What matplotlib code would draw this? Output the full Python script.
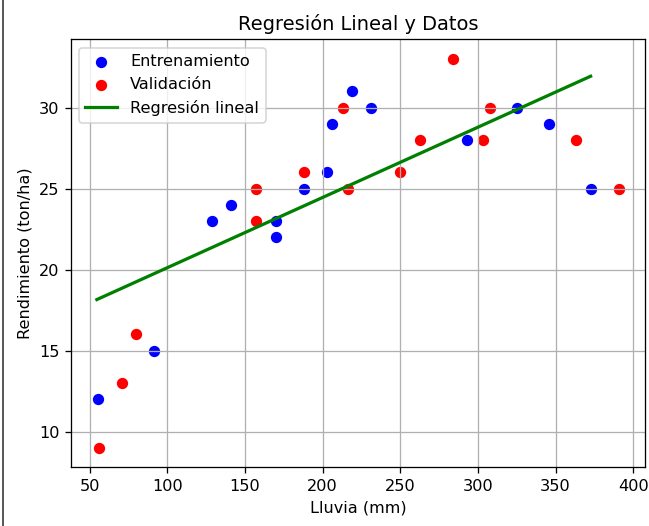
import matplotlib
matplotlib.use("Agg")
import matplotlib.pyplot as plt
from matplotlib.lines import Line2D

# datos de entrenamiento
x_train = [55, 91, 129, 141, 170, 170, 188, 203, 206, 219, 231, 293, 325, 346, 373]
y_train = [12, 15, 23, 24, 23, 22, 25, 26, 29, 31, 30, 28, 30, 29, 25]

# datos de validacion
x_val = [56, 71, 80, 157, 157, 188, 213, 216, 250, 263, 284, 303, 308, 363, 391]
y_val = [9, 13, 16, 25, 23, 26, 30, 25, 26, 28, 33, 28, 30, 28, 25]

# recta de regresion (extremos)
x_line = [54.5, 372.6]
y_line = [18.15, 31.93]

# la captura esta escalada ~1.16x respecto a 100 dpi
DPI = 116
fig = plt.figure(figsize=(649 / DPI, 526 / DPI), dpi=DPI)
ax = fig.add_axes([0.109, 0.1116, 0.8853, 0.8134])

ax.scatter(x_train, y_train, color="blue", label="Entrenamiento")
ax.scatter(x_val, y_val, color="red", label="Validación")
ax.plot(x_line, y_line, color="green", linewidth=2, label="Regresión lineal")

ax.set_title("Regresión Lineal y Datos")
ax.set_xlabel("Lluvia (mm)")
ax.set_ylabel("Rendimiento (ton/ha)")
ax.set_yticks([10, 15, 20, 25, 30])
ax.grid(True)
ax.legend(loc="upper left")

# borde de la captura
fig.add_artist(Line2D([0.005, 0.005], [0, 1], color="#333333", linewidth=1))

fig.savefig("out.png", dpi=DPI)
